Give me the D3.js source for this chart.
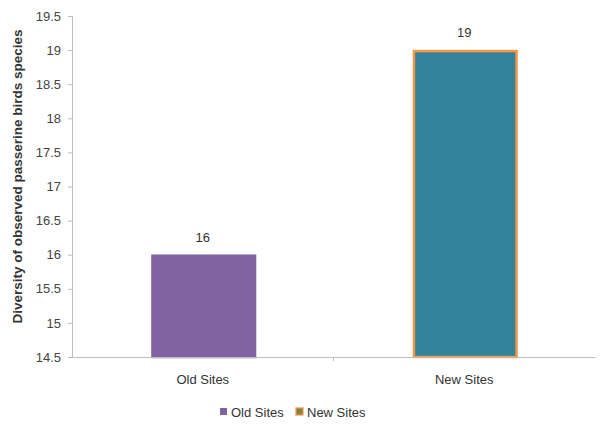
<!DOCTYPE html>
<html><head><meta charset="utf-8">
<script src="https://cdn.jsdelivr.net/npm/d3@7"></script>
<style>body{margin:0;background:#fff}svg{display:block}text{font-family:"Liberation Sans Narrow","Arial Narrow","Liberation Sans",sans-serif}</style>
</head><body><svg id="c" width="603" height="425"></svg>
<script>
const categories = ["Old Sites", "New Sites"];
const values = [16, 19];
const yTicks = [14.5, 15, 15.5, 16, 16.5, 17, 17.5, 18, 18.5, 19, 19.5];
const fills = ["#8064A2", "#31849B"];
const strokes = ["#8064A2", "#F79646"];
const yTitle = "Diversity of observed passerine birds species";

const svg = d3.select("#c");
const m = {l: 72, r: 8, t: 16, b: 68};
const W = 603, H = 425;
const x = d3.scaleBand().domain(categories).range([m.l, W - m.r]).paddingInner(0.6).paddingOuter(0.3);
const y = d3.scaleLinear().domain([14.5, 19.5]).range([H - m.b, m.t]);

// y axis
const ya = svg.append("g").attr("transform", `translate(${m.l},0)`)
  .call(d3.axisLeft(y).tickValues(yTicks).tickSize(4).tickPadding(7).tickFormat(d => String(d)));
ya.select(".domain").attr("stroke", "#bdbdbd");
ya.selectAll(".tick line").attr("stroke", "#bdbdbd");
ya.selectAll(".tick text").attr("fill", "#444").attr("font-size", 13);

// bars
svg.selectAll("rect.bar").data(categories).join("rect").attr("class", "bar")
  .attr("x", d => x(d) + 2).attr("width", x.bandwidth() - 2)
  .attr("y", (d, i) => y(values[i]) + 1).attr("height", (d, i) => y(14.5) - y(values[i]) - 1)
  .attr("fill", (d, i) => fills[i]).attr("stroke", (d, i) => strokes[i]).attr("stroke-width", 2.5);

// x axis
const xa = svg.append("g").attr("transform", `translate(0,${y(14.5)})`)
  .call(d3.axisBottom(x).tickSize(0).tickPadding(18));
xa.select(".domain").attr("stroke", "#bdbdbd");
xa.selectAll(".tick text").attr("fill", "#333").attr("font-size", 13);
// middle tick between categories
const step = x.step();
svg.append("line").attr("x1", x(categories[0]) + x.bandwidth()/2 + step/2).attr("x2", x(categories[0]) + x.bandwidth()/2 + step/2)
  .attr("y1", y(14.5)).attr("y2", y(14.5) + 4).attr("stroke", "#bdbdbd");

// value labels
svg.selectAll("text.val").data(categories).join("text").attr("class", "val")
  .attr("x", d => x(d) + x.bandwidth()/2).attr("y", (d, i) => y(values[i]) - 13)
  .attr("text-anchor", "middle").attr("font-size", 13).attr("fill", "#333")
  .text((d, i) => values[i]);

// y title
svg.append("text").attr("transform", `translate(22,${(y(14.5)+y(19.5))/2 - 10}) rotate(-90)`)
  .attr("text-anchor", "middle").attr("font-size", 13.5).attr("font-weight", "bold")
  .attr("fill", "#333").attr("font-family", "'Liberation Sans',Arial,sans-serif").text(yTitle);

// legend
const leg = svg.append("g").attr("transform", "translate(220,413)");
const lx = [0, 76];
categories.forEach((c, i) => {
  const g = leg.append("g").attr("transform", `translate(${lx[i]},0)`);
  g.append("rect").attr("x", 0).attr("y", -5).attr("width", 7).attr("height", 7)
    .attr("fill", i === 0 ? fills[0] : "#8a8040").attr("stroke", strokes[i]).attr("stroke-width", i === 0 ? 0 : 1.2);
  g.append("text").attr("x", 11).attr("y", 0).attr("dy", "0.32em").attr("font-size", 13).attr("fill", "#333").text(c);
});
</script></body></html>
